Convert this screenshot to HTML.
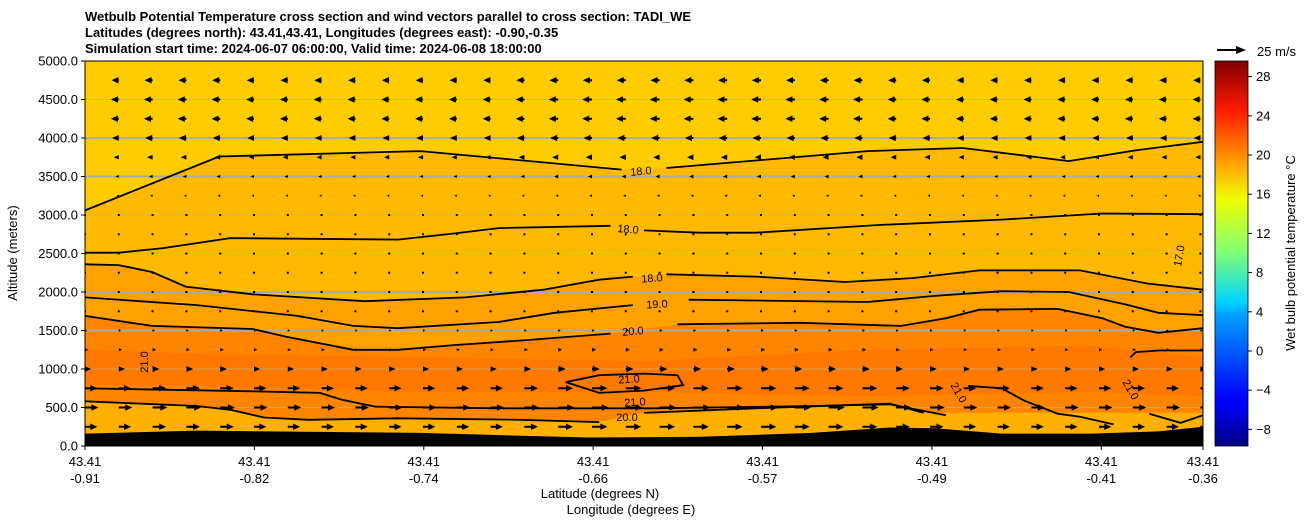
<!DOCTYPE html>
<html><head><meta charset="utf-8">
<style>
body{margin:0;background:#fff;font-family:"Liberation Sans","DejaVu Sans",sans-serif;}
svg text{font-family:"Liberation Sans","DejaVu Sans",sans-serif;}
</style></head>
<body>
<svg id="chart" width="1311" height="526" viewBox="0 0 1311 526">
<defs>
<linearGradient id="jet" x1="0" y1="1" x2="0" y2="0">
<stop offset="0" stop-color="#00007f"/>
<stop offset="0.11" stop-color="#0000ff"/>
<stop offset="0.125" stop-color="#0000ff"/>
<stop offset="0.34" stop-color="#00a0ff"/>
<stop offset="0.375" stop-color="#00d4ff"/>
<stop offset="0.5" stop-color="#7dff7a"/>
<stop offset="0.64" stop-color="#f0ff00"/>
<stop offset="0.72" stop-color="#ffb000"/>
<stop offset="0.875" stop-color="#ff1800"/>
<stop offset="1" stop-color="#7f0000"/>
</linearGradient>
<clipPath id="plotclip"><rect x="85" y="61" width="1118" height="385"/></clipPath>
</defs>
<g font-weight="bold" font-size="13">
<text x="85" y="21">Wetbulb Potential Temperature cross section and wind vectors parallel to cross section: TADI_WE</text>
<text x="85" y="37">Latitudes (degrees north): 43.41,43.41, Longitudes (degrees east): -0.90,-0.35</text>
<text x="85" y="53">Simulation start time: 2024-06-07 06:00:00, Valid time: 2024-06-08 18:00:00</text>
</g>
<g id="plot" clip-path="url(#plotclip)">
<rect x="85" y="61" width="1118" height="385" fill="#ffcc00"/>
<g id="fills"></g>
<g id="grid"></g>
<g id="contours"></g>
<g id="arrows"></g>
<path id="terrain" fill="#000"/>
</g>
<rect x="85" y="61" width="1118" height="385" fill="none" stroke="#000" stroke-width="1"/>
<g id="axes"></g>
<text x="17" y="253" font-size="13" text-anchor="middle" transform="rotate(-90 17 253)">Altitude (meters)</text>
<text x="600" y="498" font-size="13" text-anchor="middle">Latitude (degrees N)</text>
<text x="631" y="514" font-size="13" text-anchor="middle">Longitude (degrees E)</text>
<g>
<line x1="1217" y1="50" x2="1238" y2="50" stroke="#000" stroke-width="2"/>
<polygon points="1236,46 1246,50 1236,54" fill="#000"/>
<text x="1257" y="56" font-size="13">25 m/s</text>
</g>
<rect x="1215" y="61" width="33" height="385" fill="url(#jet)" stroke="#000" stroke-width="0.8"/>
<g id="cbticks"></g>
<text x="1295" y="253" font-size="13" text-anchor="middle" transform="rotate(-90 1295 253)">Wet bulb potential temperature °C</text>
</svg>
<script>
const NS="http://www.w3.org/2000/svg";
// ---- data ----
const xTickFrac=[0,0.1515,0.303,0.4545,0.606,0.7575,0.909,1];
const latLabels=["43.41","43.41","43.41","43.41","43.41","43.41","43.41","43.41"];
const lonLabels=["-0.91","-0.82","-0.74","-0.66","-0.57","-0.49","-0.41","-0.36"];
const yTicks=[0,500,1000,1500,2000,2500,3000,3500,4000,4500,5000];
const cbTicks=[-8,-4,0,4,8,12,16,20,24,28];
const cbMin=-9.7, cbMax=29.6;
// wind rows (altitude m) and u-component (m/s)
const windAlt=[250,500,750,1000,1250,1500,1750,2000,2250,2500,2750,3000,3250,3500,3750,4000,4250,4500,4750];
const windU=[11,12,11,5.5,3,2,1.5,1,1,1,-1,-1.5,-2,-3,-4.5,-6,-7,-7,-6.5];
const colFactor=[1,1,1.1,1.1,1.1,1,1,1,1,1,1,1,1,1.1,1.2,1.25,1.25,1.25,1.25,1.25,1.25,1.2,1.2,1.2,1.1,1.1,1,1,1,1,1,1,1,1];
// contours: x fraction, altitude (m)
const cA_x=[0,0.12,0.3,0.48,0.48,0.52,0.7,0.785,0.88,0.94,1];
const cA_y=[3060,3760,3830,3590,null,3610,3830,3870,3700,3840,3950];
const cB_x=[0,0.03,0.07,0.13,0.28,0.33,0.37,0.47,0.47,0.5,0.55,0.6,0.71,0.82,0.91,1];
const cB_y=[2510,2510,2570,2700,2680,2760,2830,2860,null,2800,2770,2770,2870,2940,3020,3010];
const cC_x=[0,0.03,0.06,0.09,0.15,0.25,0.34,0.41,0.46,0.49,0.49,0.52,0.6,0.68,0.74,0.8,0.89,0.95,1];
const cC_y=[2360,2350,2260,2070,1970,1880,1930,2030,2160,2200,null,2230,2200,2130,2180,2280,2280,2110,2030];
const cD_x=[0,0.1,0.19,0.24,0.28,0.37,0.42,0.49,0.49,0.54,0.7,0.76,0.82,0.88,0.93,0.96,1];
const cD_y=[1930,1830,1690,1560,1530,1610,1730,1830,null,1900,1870,1950,2010,2000,1840,1730,1700];
const cE_x=[0,0.06,0.15,0.18,0.24,0.28,0.33,0.39,0.47,0.47,0.53,0.64,0.73,0.77,0.8,0.87,0.91,0.93,0.96,1];
const cE_y=[1690,1560,1520,1420,1250,1250,1310,1370,1460,null,1580,1600,1560,1660,1770,1780,1660,1550,1470,1530];
const cF_x=[0,0.15,0.21,0.23,0.26,0.37,0.51,0.65,0.72,0.77];
const cF_y=[750,710,690,600,510,490,490,520,540,400];
const cG_x=[0,0.1,0.13,0.16,0.2,0.28,0.39,0.46,0.46,0.5,0.6,0.72,0.75];
const cG_y=[580,520,470,370,340,360,340,310,null,430,490,550,430];
const cH_x=[0.43,0.46,0.5,0.53,0.535,0.5,0.46,0.43];
const cH_y=[830,920,940,920,790,720,690,830];
const cI_x=[0.79,0.82,0.84,0.87,0.89,0.92];
const cI_y=[780,750,590,420,380,280];
const cJ_x=[0.935,0.94,0.96,1];
const cJ_y=[1150,1220,1240,1240];
const cK_x=[0.952,0.98,1];
const cK_y=[420,300,400];
const cTop_x=[0,0.1,0.3,0.5,0.7,0.9,1];
const terrX=[0,0.1,0.3,0.45,0.55,0.65,0.72,0.76,0.82,0.9,0.96,1];
const terrY=[160,200,170,110,120,170,240,230,160,160,190,250];
// ---- scales ----
const X0=85,X1=1203,Y0=446,Y1=61;
const sx=f=>X0+f*(X1-X0);
const sy=a=>Y0-a/5000*(Y0-Y1);
const scb=v=>446-(v-cbMin)/(cbMax-cbMin)*385;
function el(tag,attrs,parent){const e=document.createElementNS(NS,tag);for(const k in attrs)e.setAttribute(k,attrs[k]);parent.appendChild(e);return e;}
function pathFrom(xs,ys){let d="",m=true;for(let i=0;i<xs.length;i++){if(ys[i]===null){m=true;continue;}d+=(m?"M":"L")+sx(xs[i]).toFixed(1)+","+sy(ys[i]).toFixed(1);m=false;}return d;}
function interp(xs,ys,f){const px=[],py=[];for(let i=0;i<xs.length;i++)if(ys[i]!==null){px.push(xs[i]);py.push(ys[i]);}
 if(f<=px[0])return py[0];for(let i=1;i<px.length;i++)if(f<=px[i]){const t=(f-px[i-1])/(px[i]-px[i-1]);return py[i-1]+t*(py[i]-py[i-1]);}return py[py.length-1];}
function band(topX,topY,botX,botY,color,name){const N=60;let d="";for(let i=0;i<=N;i++){const f=i/N;d+=(i?"L":"M")+sx(f)+","+sy(interp(topX,topY,f));}
 for(let i=N;i>=0;i--){const f=i/N;d+="L"+sx(f)+","+sy(interp(botX,botY,f));}d+="Z";
 const p=el("path",{d:d,fill:color},document.getElementById("fills"));
 
 }
band(cA_x,cA_y,cC_x,cC_y,"#ffb900","fill-band-upper");
band(cC_x,cC_y,cE_x,cE_y,"#ffa200","fill-band-middle");
band(cE_x,cE_y,cG_x,cG_y,"#ff8500","fill-band-warm");
band(cTop_x,[1250,1200,1150,1100,1250,1300,1150],cTop_x,[800,780,700,700,650,700,650],"#ff7800","fill-band-core");
band(cG_x,cG_y,cTop_x,[0,0,0,0,0,0,0],"#ffb000","fill-band-lower");
// grid
const gg=document.getElementById("grid");
yTicks.forEach(v=>{if(v===0||v===5000)return;const strong=(v===1500||v===2000||v===3500||v===4000);
 const l=el("line",{x1:X0,x2:X1,y1:sy(v),y2:sy(v),stroke:strong?"#aaaaaa":"#c8b070","stroke-width":strong?2:0.8},gg);
 
 });
// contours
const cg=document.getElementById("contours");
const lines=[[cA_x,cA_y,"contour-18-upper"],[cB_x,cB_y,"contour-18-mid"],[cC_x,cC_y,"contour-18-lower"],[cD_x,cD_y,"contour-19"],[cE_x,cE_y,"contour-20"],[cF_x,cF_y,"contour-21-low"],[cG_x,cG_y,"contour-20-low"],[cH_x,cH_y,"contour-21-closed"],[cI_x,cI_y,"contour-21-right"],[cJ_x,cJ_y,"contour-21-edge"],[cK_x,cK_y,"contour-21-corner"]];
lines.forEach(c=>{const p=el("path",{d:pathFrom(c[0],c[1]),fill:"none",stroke:"#000","stroke-width":1.8},cg);
 
 });
const clabels=[[641,172,-5,"18.0"],[628,230,5,"18.0"],[652,279,-4,"18.0"],[657,305,-3,"19.0"],[633,332,-5,"20.0"],[629,380,-3,"21.0"],[635,403,-3,"21.0"],[627,418,0,"20.0"],[145,362,-90,"21.0"],[958,393,60,"21.0"],[1130,390,60,"21.0"],[1180,256,-80,"17.0"]];
clabels.forEach(c=>{const t=el("text",{x:c[0],y:c[1],"font-size":11,"text-anchor":"middle","dominant-baseline":"middle",transform:`rotate(${c[2]} ${c[0]} ${c[1]})`},cg);t.textContent=c[3];
 
 });
// arrows (quiver-like: fat heads)
const ag=document.getElementById("arrows");
const nCols=colFactor.length, dx=33.8;
windAlt.forEach((a,r)=>{for(let c=0;c<nCols;c++){const x=X0+c*dx,y=sy(a);const u=windU[r]*colFactor[c];const L=u*1.12;
 const dir=Math.sign(L)||1,len=Math.abs(L);let d;
 if(len<2.2){d=`M${x-1},${y-1}h2v2h-2Z`;}else{const hl=Math.min(7,len),hw=Math.min(3.2,Math.max(1.2,len*0.45));const sw=1;
 const xe=x+dir*len,xb=xe-dir*hl;
 if(len<=7){d=`M${xb},${y-hw}L${xe},${y}L${xb},${y+hw}Z`;}
 else d=`M${x},${y-sw}L${xb},${y-sw}L${xb},${y-hw}L${xe},${y}L${xb},${y+hw}L${xb},${y+sw}L${x},${y+sw}Z`;}
 const p=el("path",{d:d,fill:"#000"},ag);
 
 }});
// terrain
let td="M"+X0+","+Y0;terrX.forEach((f,i)=>td+="L"+sx(f)+","+sy(terrY[i]));td+="L"+X1+","+Y0+"Z";
document.getElementById("terrain").setAttribute("d",td);
// axes
const ax=document.getElementById("axes");
yTicks.forEach(v=>{const y=sy(v);el("line",{x1:X0-4,x2:X0,y1:y,y2:y,stroke:"#000"},ax);
 const t=el("text",{x:X0-7,y:y+4.5,"font-size":13,"text-anchor":"end"},ax);t.textContent=v.toFixed(1);
 
 });
xTickFrac.forEach((f,i)=>{const x=sx(f);el("line",{x1:x,x2:x,y1:Y0,y2:Y0+4,stroke:"#000"},ax);
 const t=el("text",{x:x,y:466,"font-size":13,"text-anchor":"middle"},ax);t.textContent=latLabels[i];
 
 
 const t2=el("text",{x:x,y:483,"font-size":13,"text-anchor":"middle"},ax);t2.textContent=lonLabels[i];
 
 });
const cb=document.getElementById("cbticks");
cbTicks.forEach(v=>{const y=scb(v);el("line",{x1:1248,x2:1252,y1:y,y2:y,stroke:"#000"},cb);
 const t=el("text",{x:1256,y:y+4.5,"font-size":13},cb);t.textContent=v<0?"\u2212"+Math.abs(v):String(v);
 
 });
</script>
</body></html>
